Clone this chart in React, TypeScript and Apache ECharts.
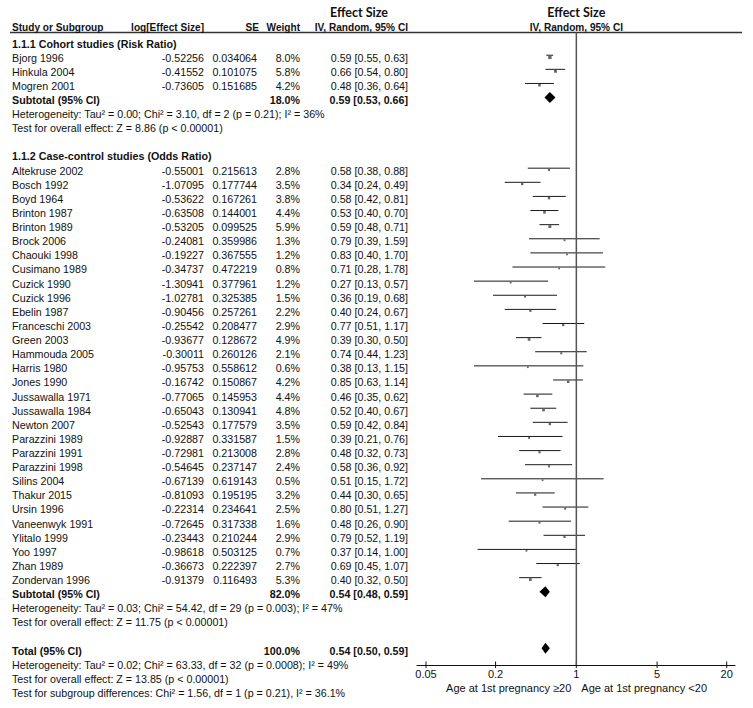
import React, { useEffect, useRef } from "react";
import * as echarts from "echarts";

// ---------------- data ----------------
const groupTitles = ["1.1.1 Cohort studies (Risk Ratio)", "1.1.2 Case-control studies (Odds Ratio)"];

const cohortStudies = ["Bjorg 1996", "Hinkula 2004", "Mogren 2001"];
const cohortLogES = ["-0.52256", "-0.41552", "-0.73605"];
const cohortSE = ["0.034064", "0.101075", "0.151685"];
const cohortWeight = [8.0, 5.8, 4.2];
const cohortEst = [0.59, 0.66, 0.48];
const cohortLo = [0.55, 0.54, 0.36];
const cohortHi = [0.63, 0.8, 0.64];

const caseStudies = [
  "Altekruse 2002", "Bosch 1992", "Boyd 1964", "Brinton 1987", "Brinton 1989", "Brock 2006",
  "Chaouki 1998", "Cusimano 1989", "Cuzick 1990", "Cuzick 1996", "Ebelin 1987", "Franceschi 2003",
  "Green 2003", "Hammouda 2005", "Harris 1980", "Jones 1990", "Jussawalla 1971", "Jussawalla 1984",
  "Newton 2007", "Parazzini 1989", "Parazzini 1991", "Parazzini 1998", "Silins 2004", "Thakur 2015",
  "Ursin 1996", "Vaneenwyk 1991", "Ylitalo 1999", "Yoo 1997", "Zhan 1989", "Zondervan 1996",
];
const caseLogES = [
  "-0.55001", "-1.07095", "-0.53622", "-0.63508", "-0.53205", "-0.24081",
  "-0.19227", "-0.34737", "-1.30941", "-1.02781", "-0.90456", "-0.25542",
  "-0.93677", "-0.30011", "-0.95753", "-0.16742", "-0.77065", "-0.65043",
  "-0.52543", "-0.92887", "-0.72981", "-0.54645", "-0.67139", "-0.81093",
  "-0.22314", "-0.72645", "-0.23443", "-0.98618", "-0.36673", "-0.91379",
];
const caseSE = [
  "0.215613", "0.177744", "0.167261", "0.144001", "0.099525", "0.359986",
  "0.367555", "0.472219", "0.377961", "0.325385", "0.257261", "0.208477",
  "0.128672", "0.260126", "0.558612", "0.150867", "0.145953", "0.130941",
  "0.177579", "0.331587", "0.213008", "0.237147", "0.619143", "0.195195",
  "0.234641", "0.317338", "0.210244", "0.503125", "0.222397", "0.116493",
];
const caseWeight = [
  2.8, 3.5, 3.8, 4.4, 5.9, 1.3, 1.2, 0.8, 1.2, 1.5, 2.2, 2.9, 4.9, 2.1, 0.6,
  4.2, 4.4, 4.8, 3.5, 1.5, 2.8, 2.4, 0.5, 3.2, 2.5, 1.6, 2.9, 0.7, 2.7, 5.3,
];
const caseEst = [
  0.58, 0.34, 0.58, 0.53, 0.59, 0.79, 0.83, 0.71, 0.27, 0.36, 0.4, 0.77, 0.39, 0.74, 0.38,
  0.85, 0.46, 0.52, 0.59, 0.39, 0.48, 0.58, 0.51, 0.44, 0.8, 0.48, 0.79, 0.37, 0.69, 0.4,
];
const caseLo = [
  0.38, 0.24, 0.42, 0.4, 0.48, 0.39, 0.4, 0.28, 0.13, 0.19, 0.24, 0.51, 0.3, 0.44, 0.13,
  0.63, 0.35, 0.4, 0.42, 0.21, 0.32, 0.36, 0.15, 0.3, 0.51, 0.26, 0.52, 0.14, 0.45, 0.32,
];
const caseHi = [
  0.88, 0.49, 0.81, 0.7, 0.71, 1.59, 1.7, 1.78, 0.57, 0.68, 0.67, 1.17, 0.5, 1.23, 1.15,
  1.14, 0.62, 0.67, 0.84, 0.76, 0.73, 0.92, 1.72, 0.65, 1.27, 0.9, 1.19, 1.0, 1.07, 0.5,
];

const summaryLabels = ["Subtotal (95% CI)", "Subtotal (95% CI)", "Total (95% CI)"];
const summaryWeight = [18.0, 82.0, 100.0];
const summaryEst = [0.59, 0.54, 0.54];
const summaryLo = [0.53, 0.48, 0.5];
const summaryHi = [0.66, 0.59, 0.59];

const heterogeneityTexts = [
  "Heterogeneity: Tau² = 0.00; Chi² = 3.10, df = 2 (p = 0.21); I² = 36%",
  "Heterogeneity: Tau² = 0.03; Chi² = 54.42, df = 29 (p = 0.003); I² = 47%",
  "Heterogeneity: Tau² = 0.02; Chi² = 63.33, df = 32 (p = 0.0008); I² = 49%",
];
const overallEffectTexts = [
  "Test for overall effect: Z = 8.86 (p < 0.00001)",
  "Test for overall effect: Z = 11.75 (p < 0.00001)",
  "Test for overall effect: Z = 13.85 (p < 0.00001)",
];
const subgroupText = "Test for subgroup differences: Chi² = 1.56, df = 1 (p = 0.21), I² = 36.1%";

const tableHeaders = ["Study or Subgroup", "log[Effect Size]", "SE", "Weight", "IV, Random, 95% CI"];
const effectHeader = "Effect Size";
const tickValues = [0.05, 0.2, 1, 5, 20];
const tickLabels = ["0.05", "0.2", "1", "5", "20"];
const favoursLabels = ["Age at 1st pregnancy ≥20", "Age at 1st pregnancy <20"];

// ---------------- layout ----------------
const W = 753;
const H = 708;
const ROW0 = 43.5;
const ROWH = 14.12;
const RULE_Y = 32.5;
const AXIS_Y = 665;
const PLOT_LEFT = 417;
const PLOT_RIGHT = 735;
const X_MIN = 0.0418;
const X_MAX = 23.6;
const Y_MIN = (RULE_Y - ROW0) / ROWH;
const Y_MAX = (AXIS_Y - ROW0) / ROWH;
const MARK_SHIFT = -0.17;

const COL_NAME = 12;
const COL_LOG = 204;
const COL_SE = 257;
const COL_SE_HEAD = 259;
const COL_W = 300;
const COL_CI = 408;
const COL_EFFECT_HEAD = 359;
const HEAD_ROW1 = (12.5 - ROW0) / ROWH;
const HEAD_ROW2 = (27 - ROW0) / ROWH;
const TICK_LABEL_ROW = (674 - ROW0) / ROWH;
const FAV_ROW = (688 - ROW0) / ROWH;

const FONT = '"Liberation Sans", Arial, sans-serif';
const FS = 10.7;
const HEAD_FONT = 'bold 12.5px Lato, "Open Sans", sans-serif';
const COLHEAD_FONT = `bold 10.1px ${FONT}`;

type Cell = { x: number; row: number; text: string; align: string; bold?: boolean; font?: string };

const fmtCI = (e: number, l: number, h: number) => `${e.toFixed(2)} [${l.toFixed(2)}, ${h.toFixed(2)}]`;
const fmtW = (w: number) => `${w.toFixed(1)}%`;

const cells: Cell[] = [];
const studyMarks: number[][] = []; // [est, row, lo, hi, weight]
const diamondMarks: number[][] = []; // [est, row, lo, hi]

cells.push({ x: COL_EFFECT_HEAD, row: HEAD_ROW1, text: effectHeader, align: "center", font: HEAD_FONT });
cells.push({ x: COL_NAME, row: HEAD_ROW2, text: tableHeaders[0], align: "left", font: COLHEAD_FONT });
cells.push({ x: COL_LOG, row: HEAD_ROW2, text: tableHeaders[1], align: "right", font: COLHEAD_FONT });
cells.push({ x: COL_SE_HEAD, row: HEAD_ROW2, text: tableHeaders[2], align: "right", font: COLHEAD_FONT });
cells.push({ x: COL_W, row: HEAD_ROW2, text: tableHeaders[3], align: "right", font: COLHEAD_FONT });
cells.push({ x: COL_CI, row: HEAD_ROW2, text: tableHeaders[4], align: "right", font: COLHEAD_FONT });

let r = 0;
const groups = [
  [cohortStudies, cohortLogES, cohortSE, cohortWeight, cohortEst, cohortLo, cohortHi],
  [caseStudies, caseLogES, caseSE, caseWeight, caseEst, caseLo, caseHi],
] as any[];
groups.forEach((g, gi) => {
  const [names, logs, ses, ws, est, lo, hi] = g;
  cells.push({ x: COL_NAME, row: r, text: groupTitles[gi], align: "left", bold: true });
  r++;
  (names as string[]).forEach((n, i) => {
    cells.push({ x: COL_NAME, row: r, text: n, align: "left" });
    cells.push({ x: COL_LOG, row: r, text: logs[i], align: "right" });
    cells.push({ x: COL_SE, row: r, text: ses[i], align: "right" });
    cells.push({ x: COL_W, row: r, text: fmtW(ws[i]), align: "right" });
    cells.push({ x: COL_CI, row: r, text: fmtCI(est[i], lo[i], hi[i]), align: "right" });
    studyMarks.push([est[i], r + MARK_SHIFT, lo[i], hi[i], ws[i]]);
    r++;
  });
  cells.push({ x: COL_NAME, row: r, text: summaryLabels[gi], align: "left", bold: true });
  cells.push({ x: COL_W, row: r, text: fmtW(summaryWeight[gi]), align: "right", bold: true });
  cells.push({ x: COL_CI, row: r, text: fmtCI(summaryEst[gi], summaryLo[gi], summaryHi[gi]), align: "right", bold: true });
  diamondMarks.push([summaryEst[gi], r + MARK_SHIFT, summaryLo[gi], summaryHi[gi]]);
  r++;
  cells.push({ x: COL_NAME, row: r, text: heterogeneityTexts[gi], align: "left" });
  r++;
  cells.push({ x: COL_NAME, row: r, text: overallEffectTexts[gi], align: "left" });
  r += 2;
});
cells.push({ x: COL_NAME, row: r, text: summaryLabels[2], align: "left", bold: true });
cells.push({ x: COL_W, row: r, text: fmtW(summaryWeight[2]), align: "right", bold: true });
cells.push({ x: COL_CI, row: r, text: fmtCI(summaryEst[2], summaryLo[2], summaryHi[2]), align: "right", bold: true });
diamondMarks.push([summaryEst[2], r + MARK_SHIFT, summaryLo[2], summaryHi[2]]);
r++;
cells.push({ x: COL_NAME, row: r, text: heterogeneityTexts[2], align: "left" });
r++;
cells.push({ x: COL_NAME, row: r, text: overallEffectTexts[2], align: "left" });
r++;
cells.push({ x: COL_NAME, row: r, text: subgroupText, align: "left" });

// plot-side texts anchored at x = 1
const plotTexts: Cell[] = [
  { x: 1, row: HEAD_ROW1, text: effectHeader, align: "center", font: HEAD_FONT },
  { x: 1, row: HEAD_ROW2, text: tableHeaders[4], align: "center", font: COLHEAD_FONT },
  { x: 1, row: FAV_ROW, text: favoursLabels[0], align: "right", font: `${FS + 0.3}px ${FONT}` },
  { x: 1, row: FAV_ROW, text: favoursLabels[1], align: "left", font: `${FS + 0.3}px ${FONT}` },
];

const textEl = (c: Cell, px: number[], dx = 0) => ({
  type: "text",
  x: px[0] + dx,
  y: px[1],
  style: {
    text: c.text,
    fill: "#111",
    font: c.font || `${c.bold ? "bold " : ""}${FS}px ${FONT}`,
    align: c.align,
    textAlign: c.align,
    verticalAlign: "middle",
    textVerticalAlign: "middle",
  },
});

const option: any = {
  animation: false,
  backgroundColor: "#ffffff",
  grid: [
    { left: 0, top: RULE_Y, width: PLOT_LEFT, height: AXIS_Y - RULE_Y },
    { left: PLOT_LEFT, top: RULE_Y, width: PLOT_RIGHT - PLOT_LEFT, height: AXIS_Y - RULE_Y },
  ],
  xAxis: [
    { gridIndex: 0, type: "value", min: 0, max: PLOT_LEFT, show: false },
    {
      gridIndex: 1,
      type: "log",
      logBase: 10,
      min: X_MIN,
      max: X_MAX,
      axisLine: { show: true, onZero: false, lineStyle: { color: "#111", width: 1 } },
      axisTick: { show: false },
      axisLabel: { show: false },
      splitLine: { show: false },
    },
  ],
  yAxis: [
    { gridIndex: 0, type: "value", inverse: true, min: Y_MIN, max: Y_MAX, show: false },
    { gridIndex: 1, type: "value", inverse: true, min: Y_MIN, max: Y_MAX, show: false },
  ],
  graphic: [
    {
      type: "line",
      shape: { x1: COL_NAME - 2, y1: RULE_Y, x2: 742, y2: RULE_Y },
      style: { stroke: "#333", lineWidth: 1.3 },
      silent: true,
    },
  ],
  series: [
    {
      type: "custom",
      name: "table",
      xAxisIndex: 0,
      yAxisIndex: 0,
      clip: false,
      silent: true,
      data: cells.map((c) => [c.x, c.row]),
      renderItem: (params: any, api: any) => {
        const c = cells[params.dataIndex];
        return textEl(c, api.coord([api.value(0), api.value(1)]));
      },
    },
    {
      type: "line",
      name: "no effect",
      xAxisIndex: 1,
      yAxisIndex: 1,
      data: [
        [1, Y_MIN],
        [1, Y_MAX],
      ],
      symbol: "none",
      silent: true,
      lineStyle: { color: "#555", width: 1.5 },
    },
    {
      type: "custom",
      name: "studies",
      xAxisIndex: 1,
      yAxisIndex: 1,
      clip: false,
      silent: true,
      data: studyMarks,
      renderItem: (params: any, api: any) => {
        const row = api.value(1);
        const c = api.coord([api.value(0), row]);
        const lo = api.coord([api.value(2), row]);
        const hi = api.coord([api.value(3), row]);
        const s = 1.6 + api.value(4) * 0.22;
        return {
          type: "group",
          children: [
            {
              type: "line",
              shape: { x1: lo[0], y1: lo[1], x2: hi[0], y2: hi[1] },
              style: { stroke: "#1a1a1a", lineWidth: 1 },
            },
            {
              type: "rect",
              shape: { x: c[0] - s / 2, y: c[1] + 0.5, width: s, height: s },
              style: { fill: "#666" },
            },
          ],
        };
      },
    },
    {
      type: "custom",
      name: "pooled",
      xAxisIndex: 1,
      yAxisIndex: 1,
      clip: false,
      silent: true,
      data: diamondMarks,
      renderItem: (params: any, api: any) => {
        const row = api.value(1);
        const c = api.coord([api.value(0), row]);
        const lo = api.coord([api.value(2), row]);
        const hi = api.coord([api.value(3), row]);
        const h = 5.5;
        return {
          type: "polygon",
          shape: {
            points: [
              [lo[0], c[1]],
              [c[0], c[1] - h],
              [hi[0], c[1]],
              [c[0], c[1] + h],
            ],
          },
          style: { fill: "#000" },
        };
      },
    },
    {
      type: "custom",
      name: "ticks",
      xAxisIndex: 1,
      yAxisIndex: 1,
      clip: false,
      silent: true,
      data: tickValues.map((v) => [v, Y_MAX]),
      renderItem: (params: any, api: any) => {
        const p = api.coord([api.value(0), api.value(1)]);
        const lp = api.coord([api.value(0), TICK_LABEL_ROW]);
        return {
          type: "group",
          children: [
            {
              type: "line",
              shape: { x1: p[0], y1: p[1] - 3.5, x2: p[0], y2: p[1] + 3 },
              style: { stroke: "#111", lineWidth: 1 },
            },
            {
              type: "text",
              x: lp[0],
              y: lp[1],
              style: {
                text: tickLabels[params.dataIndex],
                fill: "#111",
                font: `${FS + 0.3}px ${FONT}`,
                align: "center",
                textAlign: "center",
                verticalAlign: "middle",
                textVerticalAlign: "middle",
              },
            },
          ],
        };
      },
    },
    {
      type: "custom",
      name: "plot texts",
      xAxisIndex: 1,
      yAxisIndex: 1,
      clip: false,
      silent: true,
      data: plotTexts.map((c) => [c.x, c.row]),
      renderItem: (params: any, api: any) => {
        const c = plotTexts[params.dataIndex];
        const dx = c.align === "right" ? -5 : c.align === "left" ? 5 : 0;
        return textEl(c, api.coord([api.value(0), api.value(1)]), dx);
      },
    },
  ],
};

export default function App() {
  const ref = useRef<HTMLDivElement>(null);
  useEffect(() => {
    const chart = echarts.init(ref.current as HTMLDivElement, null, { renderer: "svg" });
    chart.setOption(option);
    return () => chart.dispose();
  }, []);
  return (
    <div
      ref={ref}
      style={{ position: "fixed", left: 0, top: 0, width: W, height: H, background: "#fff" }}
    />
  );
}
